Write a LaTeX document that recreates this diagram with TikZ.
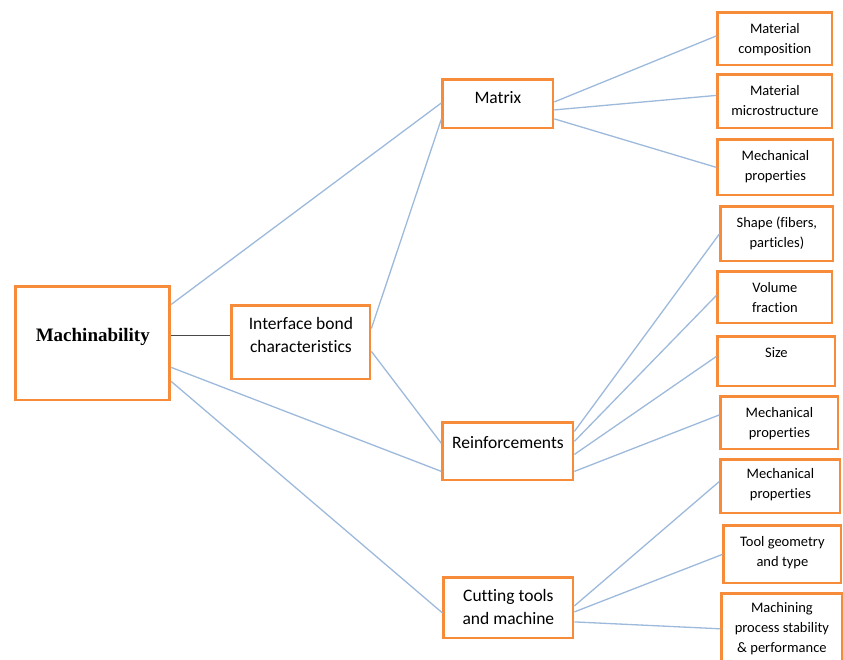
\documentclass[tikz,border=0pt]{standalone}
\usepackage{fontspec}
\setmainfont{Carlito}[Ligatures={NoCommon}]
\newfontfamily\serifbold{Liberation Serif}[BoldFont={Liberation Serif Bold}]
\usepackage{tikz}
\definecolor{boxorange}{HTML}{F68B3A}
\definecolor{linkblue}{HTML}{9DB9DB}
\definecolor{bondgray}{HTML}{4A4A4A}
\newcommand\machfont{\serifbold\bfseries\fontsize{19}{23}\selectfont}
\newcommand\midfont{\fontsize{17.5}{23}\selectfont}
\newcommand\leaffont{\fontsize{14.5}{20}\selectfont}
\tikzset{
  hub/.style={draw=boxorange,line width=2.8pt,fill=white,align=center,anchor=north west,inner sep=0pt,font=\midfont},
  leaf/.style={hub,font=\leaffont,text height=40.5pt},
  link/.style={draw=linkblue,line width=1.3pt},
  bond/.style={draw=bondgray,line width=1.2pt}
}

\begin{document}
\begin{tikzpicture}[x=1pt,y=-1pt]
\useasboundingbox (0,0) rectangle (843,659);
\node[hub,font=\machfont,minimum width=154pt,text height=54.6pt,text depth=58.6pt] (mach) at (14.4,285.4) {Machinability};
\node[hub,minimum width=138.2pt,text height=46.6pt,text depth=26.6pt] (iface) at (230.4,304.4) {Interface bond\\characteristics};
\node[hub,minimum width=110.2pt,text height=23.6pt,text depth=24.6pt] (matrix) at (441.4,78.4) {Matrix};
\node[hub,minimum width=130.2pt,text height=25.6pt,text depth=31.6pt] (reinf) at (441.4,421.4) {Reinforcements};
\node[hub,minimum width=129.2pt,text height=46.6pt,text depth=13.6pt] (cut) at (442.4,576.4) {Cutting tools\\and machine};
\node[leaf,minimum width=114.2pt,text depth=11.7pt] (comp) at (716.4,11.4) {Material\\composition};
\node[leaf,minimum width=114.2pt,text depth=12.7pt] (micro) at (716.4,73.4) {Material\\microstructure};
\node[leaf,minimum width=115.2pt,text depth=14.7pt] (mechM) at (716.4,138.4) {Mechanical\\properties};
\node[leaf,minimum width=112.2pt,text depth=13.7pt] (shape) at (719.4,205.4) {Shape (fibers,\\particles)};
\node[leaf,minimum width=114.2pt,text depth=10.7pt] (vol) at (716.4,270.4) {Volume\\fraction};
\node[leaf,minimum width=117.2pt,text height=20.5pt,text depth=28.7pt] (size) at (716.4,335.4) {Size};
\node[leaf,minimum width=117.2pt,text depth=11.7pt] (mechR) at (719.4,395.4) {Mechanical\\properties};
\node[leaf,minimum width=119.2pt,text height=39.1pt,text depth=14.1pt] (mechC) at (719.4,458.4) {Mechanical\\properties};
\node[leaf,minimum width=117.2pt,text depth=16.7pt] (tool) at (722.4,524.4) {Tool geometry\\and type};
\node[leaf,minimum width=120.2pt,text height=59.1pt,text depth=10.9pt] (proc) at (720.4,592.4) {Machining\\process stability\\\& performance};
\draw[bond] ([yshift=8pt]mach.east) -- ([yshift=8pt]mach.east -| iface.west);
\draw[link] ([yshift=39pt]mach.east) -- ([yshift=1pt]matrix.west);
\draw[link] ([yshift=-24pt]mach.east) -- ([yshift=-20pt]reinf.west);
\draw[link] ([yshift=-38pt]mach.east) -- ([yshift=-5pt]cut.west);
\draw[link] ([yshift=14pt]iface.east) -- ([yshift=-15pt]matrix.west);
\draw[link] ([yshift=-9pt]iface.east) -- ([yshift=8pt]reinf.west);
\draw[link] ([yshift=2pt]matrix.east) -- ([yshift=3pt]comp.west);
\draw[link] ([yshift=-6pt]matrix.east) -- ([yshift=6pt]micro.west);
\draw[link] ([yshift=-15pt]matrix.east) -- (mechM.west);
\draw[link] ([yshift=20pt]reinf.east) -- (shape.west);
\draw[link] ([yshift=10pt]reinf.east) -- ([yshift=2pt]vol.west);
\draw[link] ([yshift=-3pt]reinf.east) -- ([yshift=5pt]size.west);
\draw[link] ([yshift=-20pt]reinf.east) -- ([yshift=8pt]mechR.west);
\draw[link] ([yshift=2pt]cut.east) -- ([yshift=5pt]mechC.west);
\draw[link] ([yshift=-4pt]cut.east) -- (tool.west);
\draw[link] ([yshift=-14pt]cut.east) -- (proc.west);
\end{tikzpicture}
\end{document}
